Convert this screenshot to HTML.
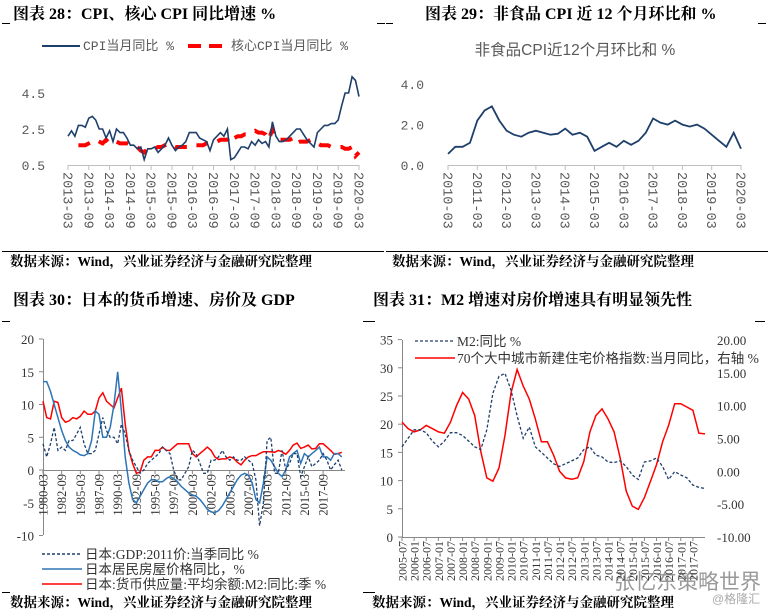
<!DOCTYPE html>
<html><head><meta charset="utf-8">
<style>
html,body{margin:0;padding:0;background:#fff;}
svg{display:block;}
.ttl{font-family:"Liberation Serif","Noto Serif CJK SC",serif;font-weight:bold;font-size:16px;fill:#000;}
.src{font-family:"Liberation Serif","Noto Serif CJK SC",serif;font-weight:bold;font-size:13.5px;fill:#000;}
.mono{font-family:"Liberation Mono","Noto Sans CJK SC",monospace;fill:#595959;}
.ser{font-family:"Liberation Serif","Noto Sans CJK SC",serif;fill:#333;}
.cjk{font-family:"Liberation Sans","Noto Sans CJK SC",sans-serif;}
</style></head>
<body>
<svg id="s" width="771" height="613" viewBox="0 0 771 613" xmlns="http://www.w3.org/2000/svg">
<text x="13" y="19" class="ttl">图表 28：CPI、核心 CPI 同比增速 %</text>
<text x="425" y="19" class="ttl">图表 29：非食品 CPI 近 12 个月环比和 %</text>
<text x="13" y="305" class="ttl">图表 30：日本的货币增速、房价及 GDP</text>
<text x="373" y="305" class="ttl">图表 31：M2 增速对房价增速具有明显领先性</text>
<g stroke="#000" stroke-width="1">
<line x1="2" y1="23.5" x2="10" y2="23.5"/><line x1="377" y1="23.5" x2="385" y2="23.5"/>
<line x1="386" y1="23.5" x2="393" y2="23.5"/><line x1="758" y1="23.5" x2="766" y2="23.5"/>
<line x1="2" y1="251.5" x2="384" y2="251.5"/><line x1="386" y1="251.5" x2="768" y2="251.5"/>
<line x1="2" y1="321.5" x2="10" y2="321.5"/><line x1="363" y1="321.5" x2="375" y2="321.5"/>
<line x1="755" y1="321.5" x2="765" y2="321.5"/>
<line x1="2" y1="592.5" x2="10" y2="592.5"/><line x1="363" y1="592.5" x2="375" y2="592.5"/>
</g>
<text x="10" y="266" class="src">数据来源：Wind，兴业证券经济与金融研究院整理</text>
<text x="392" y="266" class="src">数据来源：Wind，兴业证券经济与金融研究院整理</text>
<text x="10" y="607" class="src">数据来源：Wind，兴业证券经济与金融研究院整理</text>
<text x="372" y="607" class="src">数据来源：Wind，兴业证券经济与金融研究院整理</text>
<text x="614" y="589" class="cjk" font-size="21" fill="#777" fill-opacity="0.75">张忆东策略世界</text>
<text x="712" y="603" class="cjk" font-size="12" fill="#aaa">@格隆汇</text>
<g id="g1"></g>
<g id="g2"></g>
<g id="g3"></g>
<g id="g4"></g>
</svg>
<script>
// ---- Chart 28 data (monthly from 2013-03) ----
const cpiTicks = ["2013-03","2013-09","2014-03","2014-09","2015-03","2015-09","2016-03","2016-09","2017-03","2017-09","2018-03","2018-09","2019-03","2019-09","2020-03"];
const cpiYTicks = [0.5,2.5,4.5];
const cpi = [2.1,2.4,2.1,2.7,2.7,2.6,3.1,3.2,3.0,2.5,
2.5,2.0,2.4,1.8,2.5,2.3,2.3,2.0,1.6,1.6,1.4,1.5,
0.8,1.4,1.4,1.5,1.2,1.4,1.6,2.0,1.6,1.3,1.5,1.6,
1.8,2.3,2.3,2.3,2.0,1.9,1.8,1.3,1.9,2.1,2.3,2.1,
2.5,0.8,0.9,1.2,1.5,1.5,1.4,1.8,1.6,1.9,1.7,1.8,
1.5,2.9,2.1,1.8,1.8,1.9,2.1,2.3,2.5,2.5,2.2,1.9,
1.7,1.5,2.3,2.5,2.7,2.7,2.8,2.8,3.0,3.8,4.5,4.5,
5.4,5.2,4.3];
const coreCpi = [null,null,null,1.6,1.6,1.6,1.7,1.8,1.9,1.8,
1.7,1.9,1.7,1.8,1.8,1.7,1.7,1.7,1.6,1.6,1.5,1.3,
1.2,1.4,1.3,1.4,1.5,1.5,1.6,1.7,1.6,1.5,1.5,1.5,
1.5,1.5,1.5,1.6,1.6,1.6,1.7,1.7,1.7,1.8,1.9,1.9,
1.9,2.2,2.0,2.1,2.1,2.2,2.2,2.3,2.4,2.3,2.3,2.2,
1.9,2.5,2.0,1.9,1.9,1.9,1.9,2.0,1.7,1.8,1.8,1.8,
1.9,1.8,1.7,1.6,1.6,1.6,1.5,1.5,1.5,1.5,1.4,1.4,
1.5,1.0,1.2];
// ---- Chart 29 data (quarterly from 2010-03) ----
const nfTicks = ["2010-03","2011-03","2012-03","2013-03","2014-03","2015-03","2016-03","2017-03","2018-03","2019-03","2020-03"];
const nfYTicks = ["0.0","2.0","4.0"];
const nonFood = [0.55,0.9,0.9,1.1,2.2,2.7,2.9,2.2,1.7,1.5,1.4,1.6,1.7,1.6,1.5,1.55,1.8,1.5,1.6,1.4,
0.7,0.9,1.1,0.9,1.2,1.0,1.2,1.6,2.3,2.1,2.0,2.2,2.0,1.9,2.0,1.8,1.5,1.2,0.9,1.6,0.8];
// ---- Chart 30 data (half-yearly from 1980) ----
const jpTicks = ["1980-03","1982-09","1985-03","1987-09","1990-03","1992-09","1995-03","1997-09","2000-03","2002-09","2005-03","2007-09","2010-03","2012-09","2015-03","2017-09"];
const jpYTicks = [20,15,10,5,0,-5,-10];
const jpM2 = [10.5,8,7.8,10.5,10.3,8,7.3,7.5,8,7.8,8.2,9,8.5,8.5,9,11,11.8,10.5,10,9.5,11,12.5,7,3,1,-0.5,-0.3,1.5,2,2,3,3,3.5,3,3,3.5,4,4,4,4,2.5,2,2.5,3,3.5,3,2,1.6,1.7,1.7,2,1.8,1.2,0.8,1.5,2,2.2,2.2,2.5,2.8,2.8,2.8,2.7,3,2.8,2.4,3,3.8,4.1,3.3,3.5,3.8,3.2,3.3,4,4,3.5,3,2.4,2.5,2.7];
const jpHouse = [13.5,13.5,12,10,8,6,4.5,3.5,3,2.7,2.3,2.2,2.5,4.5,9,8.5,5,5,6.5,10,15,9,2,-2,-4.5,-5,-4,-3,-2,-1.5,-1.5,-1.8,-1.8,-1.3,-1,-1.3,-1.8,-2.5,-3,-3.5,-3.8,-4,-4.5,-5.2,-6,-6.4,-6.5,-6.2,-5.5,-4.5,-3.5,-2.5,-1.5,-0.8,-0.5,-0.8,-2,-4.5,-5,-2,2,1.5,0.5,-0.5,-1,0,2,2.5,3,1,2.5,2,2.5,3,3.5,2,2,1.5,2.5,2.5,2];
const jpGdp = [4,2,4,6.5,3,3.5,3,4.5,4.5,5.5,6.5,4,2.5,2.5,3,5.5,8,6,5,5,4,7,5.5,3,1.5,0.5,-0.5,0,1,1.5,2,2.5,3.5,3,2.5,0,-1.5,-1.5,-0.5,0.5,3,2.5,1,-0.5,-0.5,1.5,1.5,2,3,2,1.5,2,1.5,1.5,2,1.5,1,-1.5,-8.5,-5,4.5,5,-0.5,-0.5,3,0,1,2.5,2.5,-1,0.5,2,0.5,1,1.5,2.5,1.5,0,0.8,1.5,0];
// ---- Chart 31 data (quarterly from 2005-07) ----
const cnTicks = ["2005-07","2006-01","2006-07","2007-01","2007-07","2008-01","2008-07","2009-01","2009-07","2010-01","2010-07","2011-01","2011-07","2012-01","2012-07","2013-01","2013-07","2014-01","2014-07","2015-01","2015-07","2016-01","2016-07","2017-01","2017-07"];
const cnLeftTicks = ["0","5","10","15","20","25","30","35"];
const cnRightTicks = ["-10.00","-5.00","0.00","5.00","10.00","15.00","20.00"];
const cnM2 = [16,17.5,19,19,18.5,17,16,17,18.5,18.5,18,17,16,15.5,19,25.5,28.5,29,26,21.5,17.5,19.5,16,15,14,13,12.5,13,13.5,14,15.5,16,14.5,14.2,13.3,13.2,13.5,12.5,11,10.2,13.3,13.5,14,12.5,10.2,11.6,11,10.5,9.2,8.8,8.6];
const cnHouse = [7.5,6.5,6,6.3,7,6.5,6,5.8,7.5,10,12,11,8.5,3,-1,-1.5,0.5,5.5,12,15.5,13,11,8,4.5,4.5,2.5,0,-1,-1.2,-1,1.5,6,8.5,9.5,8,6,2,-3,-5.3,-5.8,-4,-1.5,1,4.5,7,10.3,10.3,9.8,9.3,5.8,5.7];

const NS="http://www.w3.org/2000/svg";
function mk(parent, tag, attrs, text){
  const e=document.createElementNS(NS,tag);
  for(const k in attrs) e.setAttribute(k,attrs[k]);
  if(text!==undefined) e.textContent=text;
  parent.appendChild(e); return e;
}
function pathD(vals, fx, fy){
  let d="", pen=false;
  vals.forEach((v,i)=>{ if(v===null){pen=false;return;} d+=(pen?"L":"M")+fx(i).toFixed(1)+","+fy(v).toFixed(1); pen=true; });
  return d;
}

// ===== Chart 28 =====
(function(){
  const g=document.getElementById("g1");
  const x0=68,x1=359, n=cpi.length;
  const fx=i=>x0+(x1-x0)*i/(n-1);
  const fy=v=>165-(v-0.5)*18;
  let l=mk(g,"line",{x1:42,y1:46,x2:80,y2:46,stroke:"#1f3f6b","stroke-width":2});
   
  let t=mk(g,"text",{x:83,y:50,class:"mono","font-size":"13"},"CPI当月同比 %");
   
  l=mk(g,"line",{x1:188,y1:46,x2:228,y2:46,stroke:"#ff0000","stroke-width":4,"stroke-dasharray":"13,8"});
   
  t=mk(g,"text",{x:231,y:50,class:"mono","font-size":"13"},"核心CPI当月同比 %");
   
  cpiYTicks.forEach(v=>{
    const e=mk(g,"text",{x:45,y:fy(v)+5,class:"mono","font-size":"13","text-anchor":"end"},v.toFixed(1));
     
  });
  const ax=mk(g,"line",{x1:x0,y1:165.5,x2:x1,y2:165.5,stroke:"#bfbfbf"});
   
  cpiTicks.forEach((s,k)=>{
    const x=fx(k*6);
    const tk=mk(g,"line",{x1:x,y1:165,x2:x,y2:170,stroke:"#bfbfbf"});
     
    const e=mk(g,"text",{x:0,y:0,class:"mono","font-size":"13.5",transform:`translate(${x-4.5},172) rotate(90)`},s);
     
  });
  const p2=mk(g,"path",{d:pathD(coreCpi,fx,fy),fill:"none",stroke:"#ff0000","stroke-width":4,"stroke-dasharray":"12,10"});
   
  const p1=mk(g,"path",{d:pathD(cpi,fx,fy),fill:"none",stroke:"#1f3f6b","stroke-width":1.6});
   
})();

// ===== Chart 29 =====
(function(){
  const g=document.getElementById("g2");
  const x0=448,x1=741,n=nonFood.length;
  const fx=i=>x0+(x1-x0)*i/(n-1);
  const fy=v=>165-v*20.2;
  const t=mk(g,"text",{x:575,y:55,class:"cjk","font-size":"15.5",fill:"#595959","text-anchor":"middle"},"非食品CPI近12个月环比和 %");
   
  nfYTicks.forEach(s=>{
    const e=mk(g,"text",{x:424,y:fy(parseFloat(s))+5,class:"mono","font-size":"13","text-anchor":"end"},s);
     
  });
  const ax=mk(g,"line",{x1:x0,y1:165.5,x2:x1,y2:165.5,stroke:"#bfbfbf"});
   
  nfTicks.forEach((s,k)=>{
    const x=fx(k*4);
    const tk=mk(g,"line",{x1:x,y1:165,x2:x,y2:170,stroke:"#bfbfbf"});
     
    const e=mk(g,"text",{x:0,y:0,class:"mono","font-size":"13.5",transform:`translate(${x-4.5},172) rotate(90)`},s);
     
  });
  const p=mk(g,"path",{d:pathD(nonFood,fx,fy),fill:"none",stroke:"#1f3f6b","stroke-width":1.8});
   
})();

// ===== Chart 30 =====
(function(){
  const g=document.getElementById("g3");
  const x0=43,n=jpM2.length;
  const fx=i=>x0+i*0.5*7.47;
  const fy=v=>470-v*6.55;
  const ya=mk(g,"line",{x1:43.5,y1:339,x2:43.5,y2:535,stroke:"#888"});
   
  jpYTicks.forEach(v=>{
    const y=fy(v);
    const tk=mk(g,"line",{x1:39,y1:y,x2:43,y2:y,stroke:"#888"});
     
    const e=mk(g,"text",{x:34,y:y+5,class:"ser","font-size":"13","text-anchor":"end"},String(v));
     
  });
  const xa=mk(g,"line",{x1:43,y1:470.5,x2:345,y2:470.5,stroke:"#888"});
   
  jpTicks.forEach((s,k)=>{
    const x=x0+k*2.5*7.47;
    const tk=mk(g,"line",{x1:x,y1:470,x2:x,y2:474,stroke:"#888"});
     
    const e=mk(g,"text",{x:0,y:0,class:"ser","font-size":"12.5","text-anchor":"end",transform:`translate(${x+4.5},474) rotate(-90)`},s);
     
  });
  const pm=mk(g,"path",{d:pathD(jpM2,fx,fy),fill:"none",stroke:"#ff0000","stroke-width":1.5});
   
  const ph=mk(g,"path",{d:pathD(jpHouse,fx,fy),fill:"none",stroke:"#2e75b6","stroke-width":1.5});
   
  const pg=mk(g,"path",{d:pathD(jpGdp,fx,fy),fill:"none",stroke:"#1f3f6b","stroke-width":1.3,"stroke-dasharray":"3,2"});
   
  const leg=[["#1f3f6b","3,2","日本:GDP:2011价:当季同比 %"],["#2e75b6","","日本居民房屋价格同比，%"],["#ff0000","","日本:货币供应量:平均余额:M2:同比:季 %"]];
  leg.forEach((r,k)=>{
    const y=554+k*15;
    const l=mk(g,"line",{x1:42,y1:y,x2:82,y2:y,stroke:r[0],"stroke-width":1.5,"stroke-dasharray":r[1]||"none"});
     
    const t=mk(g,"text",{x:85,y:y+5,class:"ser","font-size":"13.5",fill:"#333"},r[2]);
     
  });
})();

// ===== Chart 31 =====
(function(){
  const g=document.getElementById("g4");
  const x0=402,x1=705,n=cnM2.length;
  const fx=i=>x0+(x1-x0)*i/(n-1);
  const fyL=v=>537-v*5.64;
  const fyR=v=>537-(v+10)*6.567;
  const ya=mk(g,"line",{x1:402.5,y1:340,x2:402.5,y2:537,stroke:"#888"});
   
  cnLeftTicks.forEach(s=>{
    const y=fyL(parseFloat(s));
    const tk=mk(g,"line",{x1:398,y1:y,x2:402,y2:y,stroke:"#888"});
     
    const e=mk(g,"text",{x:393,y:y+5,class:"ser","font-size":"13","text-anchor":"end"},s);
     
  });
  cnRightTicks.forEach(s=>{
    const y=fyR(parseFloat(s));
    const e=mk(g,"text",{x:717,y:y+5,class:"ser","font-size":"13"},s);
     
  });
  const xa=mk(g,"line",{x1:402,y1:537.5,x2:705,y2:537.5,stroke:"#888"});
   
  cnTicks.forEach((s,k)=>{
    const x=fx(k*2);
    const tk=mk(g,"line",{x1:x,y1:537,x2:x,y2:541,stroke:"#888"});
     
    const e=mk(g,"text",{x:0,y:0,class:"ser","font-size":"12","text-anchor":"end",transform:`translate(${x+4.5},541) rotate(-90)`},s);
     
  });
  const pr=mk(g,"path",{d:pathD(cnHouse,fx,fyR),fill:"none",stroke:"#ff0000","stroke-width":1.5});
   
  const pm=mk(g,"path",{d:pathD(cnM2,fx,fyL),fill:"none",stroke:"#1f3f6b","stroke-width":1.3,"stroke-dasharray":"3,2"});
   
  let l=mk(g,"line",{x1:415,y1:341,x2:455,y2:341,stroke:"#1f3f6b","stroke-width":1.3,"stroke-dasharray":"3,2"});
   
  let t=mk(g,"text",{x:457,y:346,class:"ser","font-size":"13.5",fill:"#333"},"M2:同比 %");
   
  l=mk(g,"line",{x1:415,y1:358,x2:455,y2:358,stroke:"#ff0000","stroke-width":1.5});
   
  t=mk(g,"text",{x:457,y:363,class:"ser","font-size":"13.5",fill:"#333"},"70个大中城市新建住宅价格指数:当月同比，右轴 %");
   
})();
</script>
</body></html>
